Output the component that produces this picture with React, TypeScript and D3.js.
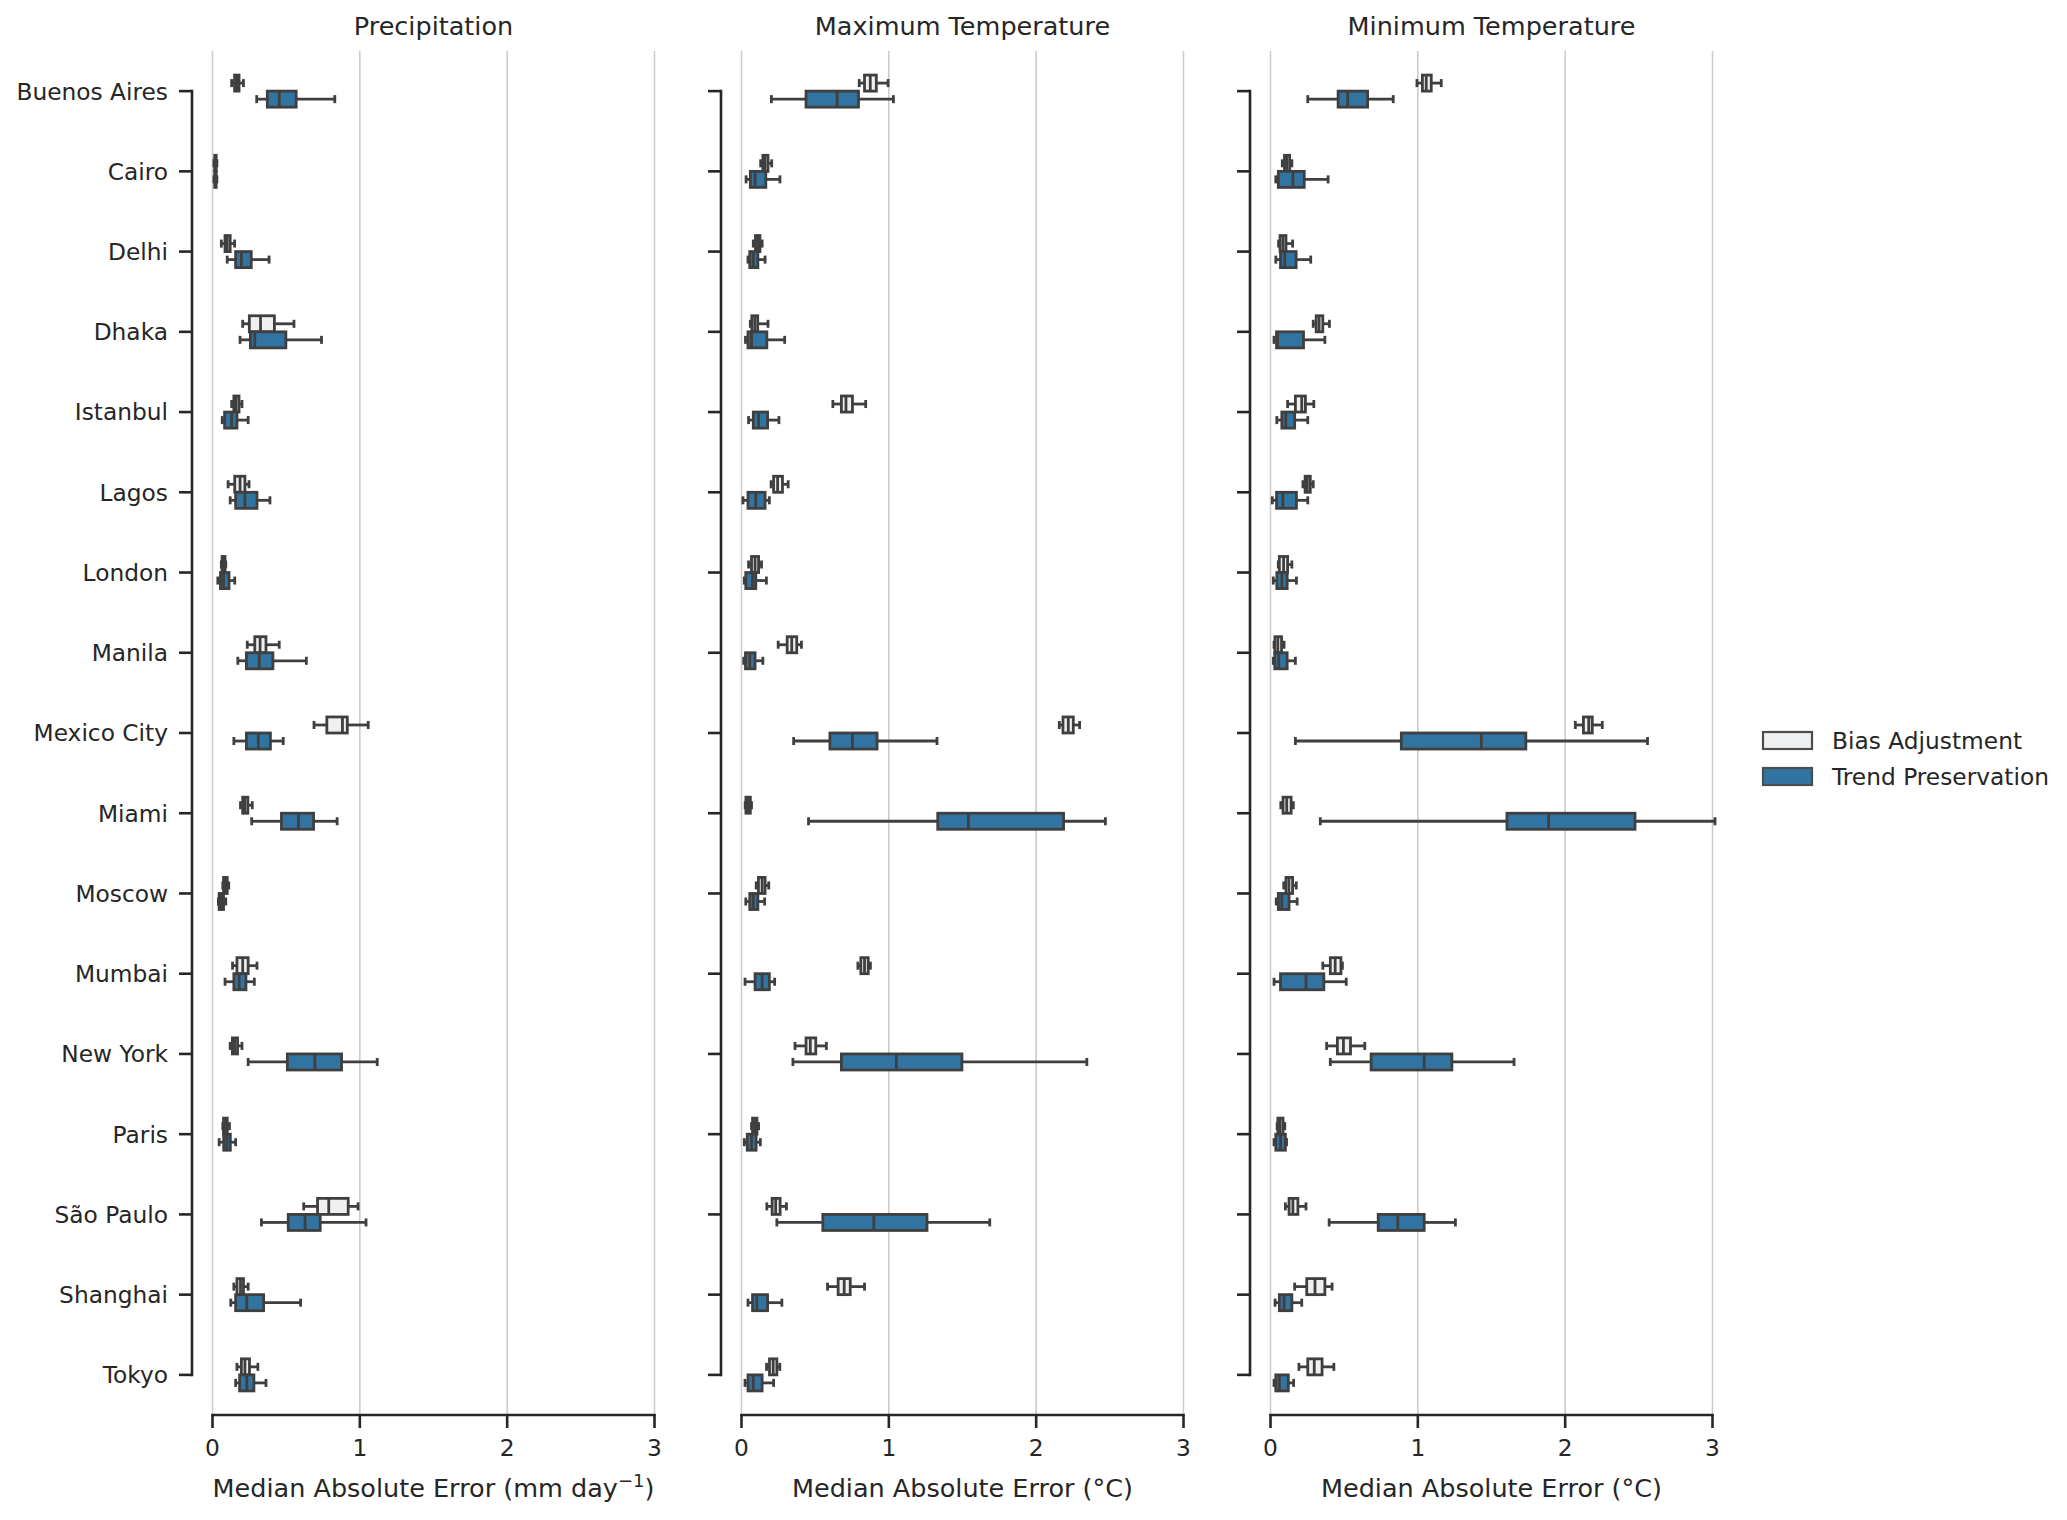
import * as d3 from "d3";

// box stats per city: [whisker low, q1, median, q3, whisker high]
type Stat = [number, number, number, number, number];

const cities = [
  "Buenos Aires", "Cairo", "Delhi", "Dhaka", "Istanbul", "Lagos", "London", "Manila",
  "Mexico City", "Miami", "Moscow", "Mumbai", "New York", "Paris", "São Paulo", "Shanghai", "Tokyo",
];

const seriesNames = ["Bias Adjustment", "Trend Preservation"];
const seriesFill = ["#eff0f2", "#3274a1"];

const panelTitles = ["Precipitation", "Maximum Temperature", "Minimum Temperature"];
const xTicks = [0, 1, 2, 3];

const precipBias: Stat[] = [
  [0.13, 0.15, 0.165, 0.18, 0.21],
  [0.01, 0.015, 0.02, 0.025, 0.03],
  [0.06, 0.085, 0.1, 0.12, 0.15],
  [0.205, 0.25, 0.326, 0.42, 0.553],
  [0.13, 0.145, 0.16, 0.18, 0.2],
  [0.106, 0.151, 0.187, 0.22, 0.248],
  [0.06, 0.065, 0.075, 0.085, 0.09],
  [0.236, 0.287, 0.323, 0.363, 0.453],
  [0.689, 0.776, 0.882, 0.915, 1.057],
  [0.19, 0.205, 0.22, 0.24, 0.27],
  [0.07, 0.075, 0.085, 0.1, 0.11],
  [0.136, 0.166, 0.205, 0.242, 0.302],
  [0.12, 0.135, 0.15, 0.17, 0.2],
  [0.07, 0.075, 0.085, 0.1, 0.115],
  [0.619, 0.713, 0.789, 0.921, 0.988],
  [0.145, 0.166, 0.19, 0.21, 0.242],
  [0.166, 0.196, 0.22, 0.251, 0.308],
];

const precipTrend: Stat[] = [
  [0.3, 0.372, 0.453, 0.568, 0.83],
  [0.01, 0.015, 0.02, 0.025, 0.03],
  [0.1, 0.157, 0.196, 0.263, 0.384],
  [0.187, 0.257, 0.287, 0.498, 0.74],
  [0.066, 0.082, 0.13, 0.166, 0.242],
  [0.12, 0.157, 0.22, 0.302, 0.39],
  [0.036, 0.054, 0.075, 0.112, 0.151],
  [0.172, 0.23, 0.317, 0.41, 0.637],
  [0.145, 0.23, 0.311, 0.393, 0.48],
  [0.266, 0.468, 0.583, 0.686, 0.846],
  [0.04, 0.045, 0.06, 0.075, 0.09],
  [0.085, 0.145, 0.181, 0.227, 0.284],
  [0.242, 0.508, 0.695, 0.876, 1.118],
  [0.045, 0.076, 0.097, 0.121, 0.157],
  [0.332, 0.514, 0.628, 0.731, 1.042],
  [0.124, 0.157, 0.233, 0.347, 0.598],
  [0.157, 0.184, 0.233, 0.281, 0.363],
];

const tmaxBias: Stat[] = [
  [0.799, 0.835, 0.874, 0.915, 0.995],
  [0.13, 0.145, 0.16, 0.18, 0.205],
  [0.08, 0.095, 0.11, 0.125, 0.14],
  [0.06, 0.07, 0.09, 0.11, 0.18],
  [0.62, 0.678, 0.709, 0.753, 0.843],
  [0.201, 0.218, 0.245, 0.278, 0.317],
  [0.048, 0.068, 0.092, 0.116, 0.136],
  [0.249, 0.31, 0.341, 0.375, 0.407],
  [2.157, 2.182, 2.218, 2.252, 2.295],
  [0.025, 0.03, 0.045, 0.06, 0.068],
  [0.1, 0.115, 0.14, 0.16, 0.185],
  [0.79, 0.81, 0.835, 0.86, 0.875],
  [0.363, 0.438, 0.467, 0.504, 0.576],
  [0.068, 0.075, 0.09, 0.105, 0.116],
  [0.172, 0.208, 0.232, 0.262, 0.305],
  [0.584, 0.656, 0.697, 0.738, 0.835],
  [0.17, 0.19, 0.215, 0.24, 0.26],
];

const tmaxTrend: Stat[] = [
  [0.203, 0.438, 0.649, 0.794, 1.031],
  [0.031, 0.06, 0.092, 0.165, 0.261],
  [0.044, 0.056, 0.08, 0.111, 0.16],
  [0.027, 0.044, 0.068, 0.172, 0.293],
  [0.048, 0.08, 0.116, 0.177, 0.254],
  [0.01, 0.044, 0.097, 0.16, 0.189],
  [0.019, 0.029, 0.075, 0.097, 0.169],
  [0.015, 0.027, 0.056, 0.092, 0.145],
  [0.354, 0.6, 0.753, 0.92, 1.327],
  [0.455, 1.332, 1.54, 2.186, 2.47],
  [0.029, 0.056, 0.08, 0.111, 0.157],
  [0.024, 0.092, 0.14, 0.189, 0.225],
  [0.349, 0.678, 1.051, 1.496, 2.344],
  [0.019, 0.039, 0.068, 0.099, 0.128],
  [0.24, 0.552, 0.898, 1.259, 1.685],
  [0.044, 0.075, 0.104, 0.177, 0.274],
  [0.024, 0.044, 0.08, 0.14, 0.218],
];

const tminBias: Stat[] = [
  [0.994, 1.031, 1.057, 1.091, 1.159],
  [0.08, 0.095, 0.11, 0.13, 0.145],
  [0.055, 0.065, 0.085, 0.105, 0.15],
  [0.29, 0.31, 0.33, 0.355, 0.4],
  [0.116, 0.169, 0.212, 0.237, 0.294],
  [0.22, 0.235, 0.25, 0.27, 0.29],
  [0.053, 0.06, 0.089, 0.116, 0.145],
  [0.024, 0.03, 0.05, 0.075, 0.092],
  [2.069, 2.124, 2.16, 2.184, 2.252],
  [0.07, 0.085, 0.11, 0.14, 0.155],
  [0.09, 0.105, 0.125, 0.15, 0.175],
  [0.355, 0.406, 0.439, 0.478, 0.488],
  [0.381, 0.454, 0.495, 0.543, 0.64],
  [0.045, 0.05, 0.065, 0.085, 0.097],
  [0.101, 0.126, 0.152, 0.186, 0.241],
  [0.164, 0.246, 0.302, 0.369, 0.418],
  [0.193, 0.253, 0.297, 0.35, 0.43],
];

const tminTrend: Stat[] = [
  [0.253, 0.459, 0.524, 0.659, 0.833],
  [0.036, 0.053, 0.152, 0.229, 0.391],
  [0.036, 0.068, 0.097, 0.174, 0.273],
  [0.024, 0.041, 0.048, 0.224, 0.369],
  [0.043, 0.077, 0.104, 0.164, 0.253],
  [0.012, 0.041, 0.084, 0.176, 0.253],
  [0.019, 0.043, 0.077, 0.113, 0.176],
  [0.019, 0.029, 0.056, 0.113, 0.169],
  [0.169, 0.888, 1.431, 1.733, 2.559],
  [0.338, 1.605, 1.888, 2.474, 3.017],
  [0.039, 0.053, 0.077, 0.126, 0.181],
  [0.024, 0.068, 0.241, 0.362, 0.514],
  [0.406, 0.683, 1.043, 1.231, 1.653],
  [0.024, 0.036, 0.068, 0.101, 0.109],
  [0.398, 0.731, 0.864, 1.043, 1.255],
  [0.031, 0.06, 0.092, 0.145, 0.212],
  [0.024, 0.036, 0.06, 0.121, 0.157],
];

const panelSeries: Stat[][][] = [
  [precipBias, precipTrend],
  [tmaxBias, tmaxTrend],
  [tminBias, tminTrend],
];

const W = 2067;
const H = 1520;
const panelLeft = [212.5, 741.5, 1270.5];
const panelWidth = 442;
const axTop = 51;
const axBottom = 1415;
const spineGap = 20.5;
const tickLen = 13;
const ink = "#262626";
const boxLine = "#3f3f3f";
const font = "DejaVu Sans, sans-serif";

const y = d3.scaleBand<string>().domain(cities).range([axTop, axBottom]);
const rowY = (c: string) => (y(c) ?? 0) + y.bandwidth() / 2;
const boxH = y.bandwidth() * 0.2;

function BoxMark({ s, x, cy, fill }: { s: Stat; x: d3.ScaleLinear<number, number>; cy: number; fill: string }) {
  const [lo, q1, med, q3, hi] = s;
  const cap = boxH * 0.5;
  return (
    <g stroke={boxLine} strokeWidth={2.8}>
      <line x1={x(lo)} x2={x(q1)} y1={cy} y2={cy} />
      <line x1={x(q3)} x2={x(hi)} y1={cy} y2={cy} />
      <line x1={x(lo)} x2={x(lo)} y1={cy - cap / 2} y2={cy + cap / 2} />
      <line x1={x(hi)} x2={x(hi)} y1={cy - cap / 2} y2={cy + cap / 2} />
      <rect x={x(q1)} y={cy - boxH / 2} width={Math.max(x(q3) - x(q1), 0.5)} height={boxH} fill={fill} />
      <line x1={x(med)} x2={x(med)} y1={cy - boxH / 2} y2={cy + boxH / 2} />
    </g>
  );
}

function Panel({ idx }: { idx: number }) {
  const x0 = panelLeft[idx];
  const x = d3.scaleLinear().domain([0, 3]).range([x0, x0 + panelWidth]);
  const spineX = x0 - spineGap;
  const cx = x0 + panelWidth / 2;
  const series = panelSeries[idx];
  const offsets = [-boxH / 2, boxH / 2];

  return (
    <g>
      {xTicks.map((t) => (
        <line key={"g" + t} x1={x(t)} x2={x(t)} y1={axTop} y2={axBottom} stroke="#cccccc" strokeWidth={1.6} />
      ))}

      {series.map((stats, si) =>
        cities.map((c, ci) => (
          <BoxMark key={si + "-" + c} s={stats[ci]} x={x} cy={rowY(c) + offsets[si]} fill={seriesFill[si]} />
        ))
      )}

      {/* left spine, trimmed to first/last tick */}
      <line x1={spineX} x2={spineX} y1={rowY(cities[0])} y2={rowY(cities[cities.length - 1])} stroke={ink} strokeWidth={2.6} strokeLinecap="square" />
      {cities.map((c) => (
        <g key={"yt" + c}>
          <line x1={spineX - tickLen} x2={spineX} y1={rowY(c)} y2={rowY(c)} stroke={ink} strokeWidth={2.6} />
          {idx === 0 && (
            <text x={spineX - tickLen - 11} y={rowY(c)} dy="0.36em" textAnchor="end" fontSize={23.3} fill={ink} fontFamily={font}>
              {c}
            </text>
          )}
        </g>
      ))}

      {/* bottom spine */}
      <line x1={x(0)} x2={x(3)} y1={axBottom} y2={axBottom} stroke={ink} strokeWidth={2.6} strokeLinecap="square" />
      {xTicks.map((t) => (
        <g key={"xt" + t}>
          <line x1={x(t)} x2={x(t)} y1={axBottom} y2={axBottom + tickLen} stroke={ink} strokeWidth={2.6} />
          <text x={x(t)} y={1456} textAnchor="middle" fontSize={23.3} fill={ink} fontFamily={font}>
            {t}
          </text>
        </g>
      ))}

      <text x={cx} y={35} textAnchor="middle" fontSize={25.5} fill={ink} fontFamily={font}>
        {panelTitles[idx]}
      </text>

      {idx === 0 ? (
        <text x={cx} y={1497} textAnchor="middle" fontSize={25.5} fill={ink} fontFamily={font}>
          Median Absolute Error (mm day
          <tspan dy={-10} fontSize={18}>−1</tspan>
          <tspan dy={10}>)</tspan>
        </text>
      ) : (
        <text x={cx} y={1497} textAnchor="middle" fontSize={25.5} fill={ink} fontFamily={font}>
          Median Absolute Error (°C)
        </text>
      )}
    </g>
  );
}

export default function App() {
  return (
    <svg width={W} height={H} style={{ position: "absolute", left: 0, top: 0, background: "#ffffff" }}>
      <rect width={W} height={H} fill="#ffffff" />
      {panelTitles.map((_, i) => (
        <Panel key={i} idx={i} />
      ))}
      {seriesNames.map((name, i) => (
        <g key={name}>
          <rect x={1763} y={732 + i * 36} width={49} height={17} fill={seriesFill[i]} stroke="#4d4d4d" strokeWidth={2.2} />
          <text x={1832} y={749 + i * 36} fontSize={23.3} fill={ink} fontFamily={font}>
            {name}
          </text>
        </g>
      ))}
    </svg>
  );
}
